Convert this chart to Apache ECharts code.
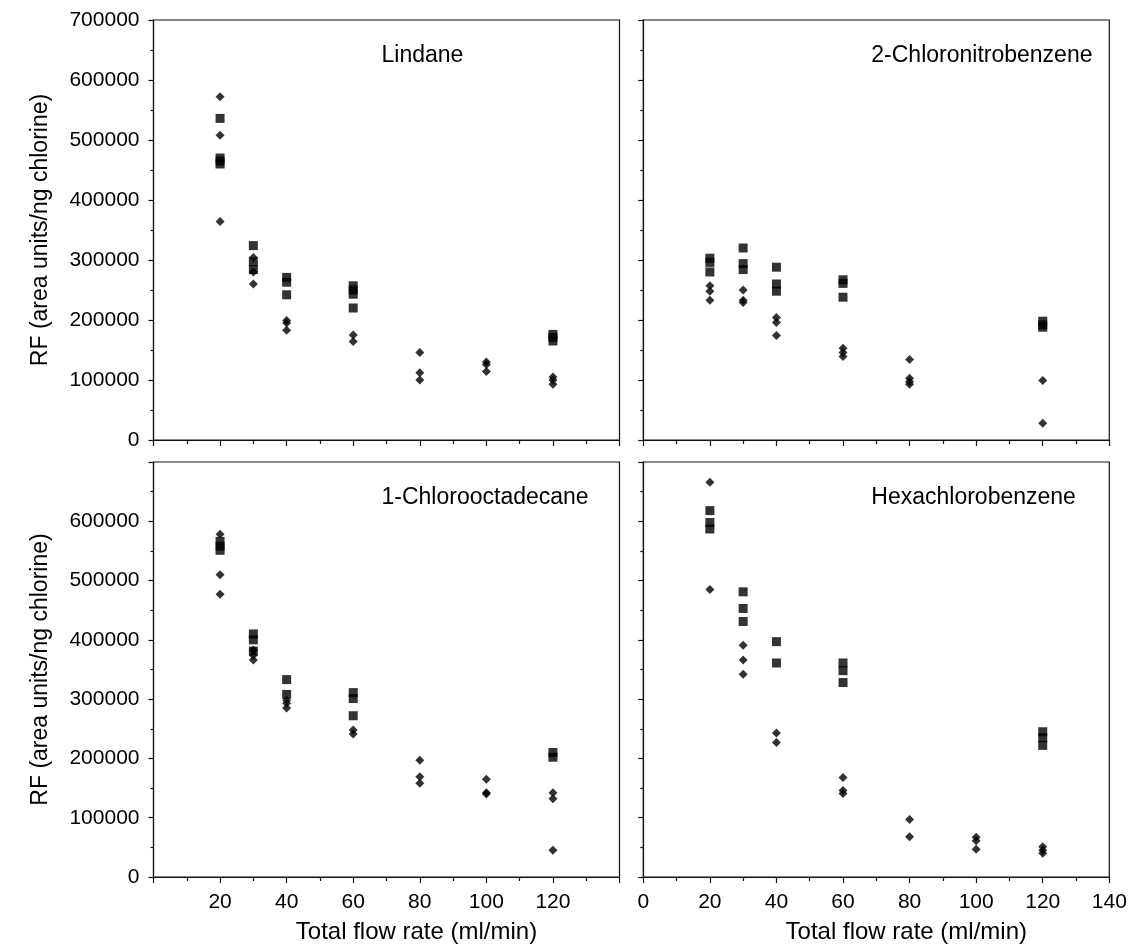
<!DOCTYPE html>
<html>
<head>
<meta charset="utf-8">
<style>
html,body{margin:0;padding:0;background:#fff;}
#chart{width:1130px;height:945px;}
</style>
<script src="https://cdn.jsdelivr.net/npm/echarts@6/dist/echarts.min.js"></script>
</head>
<body>
<div id="chart"></div>
<script>
// ---- data ----
const panelTitles = ['Lindane', '2-Chloronitrobenzene', '1-Chlorooctadecane', 'Hexachlorobenzene'];
const xTitle = 'Total flow rate (ml/min)';
const yTitle = 'RF (area units/ng chlorine)';

const lindaneDiamonds = [[20,572000],[20,508000],[20,364000],[30,304000],[30,280000],[30,260000],[40,199000],[40,195000],[40,183000],[60,175000],[60,164000],[80,146000],[80,112000],[80,100000],[100,130000],[100,126000],[100,114000],[120,105000],[120,100000],[120,93000]];
const lindaneSquares = [[20,536000],[20,470000],[20,465000],[20,460000],[30,324000],[30,297000],[30,284000],[40,271000],[40,263000],[40,242000],[60,257000],[60,250000],[60,243000],[60,220000],[120,176000],[120,171000],[120,165000]];

const chloronitroDiamonds = [[20,257000],[20,248000],[20,233000],[30,250000],[30,233000],[30,229000],[40,204000],[40,196000],[40,174000],[60,153000],[60,146000],[60,139000],[80,134000],[80,103000],[80,97000],[80,93000],[120,99000],[120,28000]];
const chloronitroSquares = [[20,303000],[20,296000],[20,280000],[30,320000],[30,294000],[30,284000],[40,288000],[40,260000],[40,248000],[60,267000],[60,261000],[60,238000],[120,198000],[120,192000],[120,188000]];

const chlorooctaDiamonds = [[20,578000],[20,510000],[20,477000],[30,383000],[30,374000],[30,366000],[40,298000],[40,293000],[40,285000],[60,248000],[60,241000],[80,197000],[80,169000],[80,158000],[100,165000],[100,142000],[100,140000],[120,142000],[120,132000],[120,45000]];
const chlorooctaSquares = [[20,566000],[20,558000],[20,551000],[30,410000],[30,400000],[30,381000],[40,333000],[40,308000],[60,311000],[60,301000],[60,272000],[120,210000],[120,202000]];

const hexaDiamonds = [[20,666000],[20,485000],[30,391000],[30,366000],[30,342000],[40,243000],[40,227000],[60,168000],[60,146000],[60,141000],[80,97000],[80,68000],[100,67000],[100,61000],[100,47000],[120,51000],[120,45000],[120,40000]];
const hexaSquares = [[20,618000],[20,598000],[20,587000],[30,481000],[30,453000],[30,431000],[40,397000],[40,361000],[60,361000],[60,348000],[60,328000],[120,245000],[120,235000],[120,222000]];

const xMin = 0, xMax = 140, xStep = 20;
const yMin = 0, yMax = 700000, yStep = 100000;

// ---- layout ----
const FONT = '"Liberation Sans", Arial, Helvetica, sans-serif';
const grids = [
  {left: 153.5, top: 20, width: 466, height: 420},
  {left: 643.3, top: 20, width: 466, height: 420},
  {left: 153.5, top: 462, width: 466, height: 415},
  {left: 643.3, top: 462, width: 466, height: 415}
];

const axisLine = {show: true, lineStyle: {color: '#111', width: 1.2}};
function makeX(i, showLabels, hideEnds) {
  return {
    type: 'value', gridIndex: i, min: xMin, max: xMax, interval: xStep,
    axisLine: axisLine,
    axisTick: {show: true, inside: false, length: 6, lineStyle: {color: '#111', width: 1.2}},
    minorTick: {show: true, splitNumber: 2, length: 4, lineStyle: {color: '#111', width: 1.2}},
    splitLine: {show: false}, minorSplitLine: {show: false},
    axisLabel: {show: showLabels, color: '#000', fontSize: 21, fontFamily: FONT, margin: 15,
      showMinLabel: !hideEnds, showMaxLabel: !hideEnds}
  };
}
function makeY(i, showLabels, hideMax) {
  return {
    type: 'value', gridIndex: i, min: yMin, max: yMax, interval: yStep,
    axisLine: axisLine,
    axisTick: {show: true, inside: false, length: 5, lineStyle: {color: '#111', width: 1.2}},
    minorTick: {show: true, splitNumber: 2, length: 3, lineStyle: {color: '#111', width: 1.2}},
    splitLine: {show: false}, minorSplitLine: {show: false},
    axisLabel: {show: showLabels, color: '#000', fontSize: 21, fontFamily: FONT, margin: 14,
      showMaxLabel: !hideMax, formatter: v => String(v)}
  };
}

const panelData = [
  [lindaneDiamonds, lindaneSquares],
  [chloronitroDiamonds, chloronitroSquares],
  [chlorooctaDiamonds, chlorooctaSquares],
  [hexaDiamonds, hexaSquares]
];
const series = [];
panelData.forEach((pd, i) => {
  series.push({type: 'scatter', xAxisIndex: i, yAxisIndex: i, data: pd[1], symbol: 'rect', symbolSize: 9,
    itemStyle: {color: '#000'}, silent: true});
  series.push({type: 'scatter', xAxisIndex: i, yAxisIndex: i, data: pd[0], symbol: 'diamond', symbolSize: 9,
    itemStyle: {color: '#000'}, silent: true});
});

const graphics = [];
panelTitles.forEach((t, i) => {
  const g = grids[i];
  graphics.push({type: 'text', left: g.left + 228, top: g.top + 24,
    style: {text: t, font: '23px ' + FONT, fill: '#000'}});
});
[grids[0], grids[2]].forEach(g => {
  graphics.push({type: 'text', x: 41, y: g.top + g.height / 2, rotation: Math.PI / 2,
    style: {text: yTitle, font: '23px ' + FONT, fill: '#000', textAlign: 'center', textVerticalAlign: 'middle'}});
});
[grids[2], grids[3]].forEach(g => {
  graphics.push({type: 'text', x: g.left + 263, y: 932,
    style: {text: xTitle, font: '24px ' + FONT, fill: '#000', textAlign: 'center', textVerticalAlign: 'middle'}});
});

const option = {
  animation: false,
  backgroundColor: '#fff',
  grid: grids.map(g => Object.assign({show: true, borderColor: '#111', borderWidth: 1.2, backgroundColor: 'transparent'}, g)),
  xAxis: [makeX(0, false, false), makeX(1, false, false), makeX(2, true, true), makeX(3, true, false)],
  yAxis: [makeY(0, true, false), makeY(1, false, false), makeY(2, true, true), makeY(3, false, false)],
  series: series,
  graphic: graphics
};
const chart = echarts.init(document.getElementById('chart'), null, {renderer: 'canvas'});
chart.setOption(option);
</script>
</body>
</html>
